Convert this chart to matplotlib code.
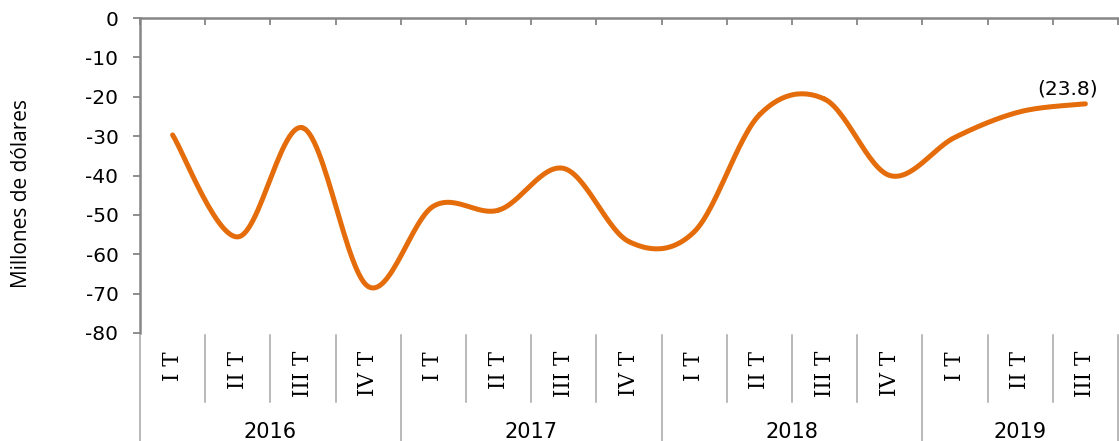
import numpy as np
import matplotlib
matplotlib.use("Agg")
import matplotlib.pyplot as plt
from matplotlib.lines import Line2D
from matplotlib.transforms import blended_transform_factory

# data
years = ["2016", "2017", "2018", "2019"]
quarters = ["I T", "II T", "III T", "IV T",
            "I T", "II T", "III T", "IV T",
            "I T", "II T", "III T", "IV T",
            "I T", "II T", "III T"]
quarters_per_year = [4, 4, 4, 3]
values = [-29.7, -55.6, -27.9, -68.2,
          -47.8, -48.8, -38.2, -56.8,
          -54.3, -24.6, -20.6, -40.0,
          -30.3, -23.8, -21.8]
last_label = "(23.8)"

W, H = 1119, 441
ORANGE = "#E46C0A"
GRAY = "#868686"
SEP = "#A6A6A6"


def smooth(x, y, n=30):
    # Catmull-Rom spline through the points (like the Excel "smoothed line")
    x = np.asarray(x, float)
    y = np.asarray(y, float)
    px = np.concatenate([[x[0]], x, [x[-1]]])
    py = np.concatenate([[y[0]], y, [y[-1]]])
    xs, ys = [], []
    t = np.linspace(0, 1, n)
    for i in range(1, len(px) - 2):
        for p, out in ((px, xs), (py, ys)):
            p0, p1, p2, p3 = p[i - 1], p[i], p[i + 1], p[i + 2]
            out.extend(0.5 * ((2 * p1) + (-p0 + p2) * t
                              + (2 * p0 - 5 * p1 + 4 * p2 - p3) * t ** 2
                              + (-p0 + 3 * p1 - 3 * p2 + p3) * t ** 3))
    return np.array(xs), np.array(ys)


fig = plt.figure(figsize=(W / 100, H / 100), dpi=100)
ax = fig.add_axes([140 / W, 1 - 333 / H, (1118 - 140) / W, 315 / H])

n = len(values)
x = np.arange(n) + 0.5
sx, sy = smooth(x, values)
ax.plot(sx, sy, color=ORANGE, lw=3.6, solid_capstyle="round")

ax.annotate(last_label, (x[-1], values[-1]), xytext=(-13, 4),
            textcoords="offset points", ha="center", va="bottom",
            fontsize=14.5, color="black")

ax.set_xlim(0, n)
ax.set_ylim(-80, 0)
ax.set_yticks(np.arange(-80, 1, 10))
ax.set_yticklabels([str(v) for v in range(-80, 1, 10)], fontsize=14.5)
ax.tick_params(axis="y", direction="out", length=5, width=1.3, color=GRAY, pad=10.5)

ax.xaxis.tick_top()
ax.set_xticks(np.arange(n + 1))
ax.tick_params(axis="x", direction="in", length=5, width=1.3, color=GRAY,
               labeltop=False, labelbottom=False)

for s in ["right", "bottom"]:
    ax.spines[s].set_visible(False)
for s in ["left", "top"]:
    ax.spines[s].set_color(GRAY)
    ax.spines[s].set_linewidth(1.8)

# category labels below the plot area
tr = blended_transform_factory(ax.transData, fig.transFigure)
for i, q in enumerate(quarters):
    ax.text(i + 0.5, 1 - 351 / H, q, rotation=90, ha="center", va="top",
            fontsize=15.5, family="DejaVu Serif", transform=tr, clip_on=False)

# separators
bounds = np.cumsum([0] + quarters_per_year)
for b in range(n + 1):
    if b in bounds:
        y0, y1 = 1 - 335 / H, 0
    else:
        y0, y1 = 1 - 335 / H, 1 - 402 / H
    fig.add_artist(Line2D([b, b], [y0, y1], transform=tr, color=SEP, lw=1.1))

for k, yr in enumerate(years):
    xc = (bounds[k] + bounds[k + 1]) / 2
    ax.text(xc, 1 - 432 / H, yr, ha="center", va="center", fontsize=15,
            transform=tr, clip_on=False)

fig.text(22 / W, 1 - 194 / H, "Millones de dólares", rotation=90,
         ha="center", va="center", fontsize=15, family="Open Sans")

fig.savefig("out.png", dpi=100)
